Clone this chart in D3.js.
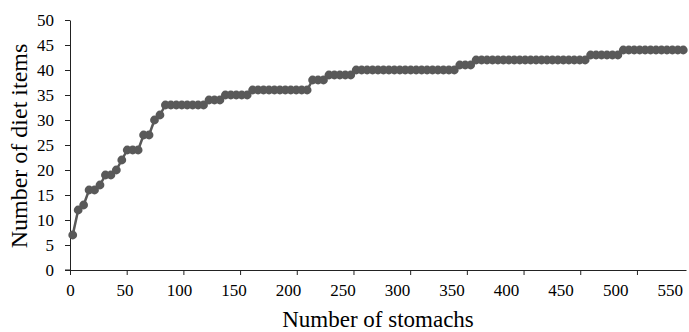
<!DOCTYPE html>
<html>
<head>
<meta charset="utf-8">
<script src="https://cdn.jsdelivr.net/npm/d3@7"></script>
<style>
  html, body { margin: 0; padding: 0; background: #fff; }
  svg { display: block; }
  text { font-family: "Liberation Serif", "Times New Roman", serif; fill: #000; }
</style>
</head>
<body>
<svg id="chart" width="689" height="332"></svg>
<script>
// Cumulative number of diet items, one value every 5 stomachs
const firstStomach = 2.5;
const stomachStep = 5;
const dietItems = [
  7, 12, 13, 16, 16, 17, 19, 19, 20, 22,
  24, 24, 24, 27, 27, 30, 31,
  33, 33, 33, 33, 33, 33, 33, 33,
  34, 34, 34,
  35, 35, 35, 35, 35,
  36, 36, 36, 36, 36, 36, 36, 36, 36, 36, 36,
  38, 38, 38,
  39, 39, 39, 39, 39,
  40, 40, 40, 40, 40, 40, 40, 40, 40, 40, 40, 40, 40, 40, 40, 40, 40, 40, 40,
  41, 41, 41,
  42, 42, 42, 42, 42, 42, 42, 42, 42, 42, 42, 42, 42, 42, 42, 42, 42, 42, 42, 42, 42,
  43, 43, 43, 43, 43, 43,
  44, 44, 44, 44, 44, 44, 44, 44, 44, 44, 44, 44
];
const xTickLabels = [0, 50, 100, 150, 200, 250, 300, 350, 400, 450, 500, 550];
const xTickMarks = [0, 52, 104, 156, 208, 260, 312, 364, 416, 468, 520];
const yTicks = [0, 5, 10, 15, 20, 25, 30, 35, 40, 45, 50];
const xMax = 565;
const xTitle = "Number of stomachs";
const yTitle = "Number of diet items";

(function () {
const data = dietItems.map((v, i) => ({ x: firstStomach + i * stomachStep, y: v }));

const svg = d3.select("#chart");
const mLeft = 70, mRight = 686, mTop = 20, mBottom = 270;
const x = d3.scaleLinear().domain([0, xMax]).range([mLeft, mRight]);
const y = d3.scaleLinear().domain([0, 50]).range([mBottom, mTop]);
const axisColor = "#222";
const markColor = "#595959";

// y axis
const yAxis = svg.append("g").attr("transform", `translate(${mLeft},0)`)
  .call(d3.axisLeft(y).tickValues(yTicks).tickSize(5).tickSizeOuter(0).tickPadding(11));
yAxis.select(".domain").attr("stroke", axisColor);
yAxis.selectAll(".tick line").attr("stroke", axisColor);
yAxis.selectAll(".tick text").attr("font-size", 17).attr("font-family", "Liberation Serif").attr("fill", "#000");

// x axis line + ticks
const xAxisMarks = svg.append("g").attr("transform", `translate(0,${mBottom})`)
  .call(d3.axisBottom(x).tickValues(xTickMarks).tickSize(5).tickSizeOuter(0).tickFormat(""));
xAxisMarks.select(".domain").attr("stroke", axisColor);
xAxisMarks.selectAll(".tick line").attr("stroke", axisColor);
svg.append("line").attr("x1", mLeft - 5).attr("x2", mLeft).attr("y1", mBottom).attr("y2", mBottom)
  .attr("stroke", axisColor);

// x tick labels
const xAxisLabels = svg.append("g").attr("transform", `translate(0,${mBottom})`)
  .call(d3.axisBottom(x).tickValues(xTickLabels).tickSize(0).tickPadding(14));
xAxisLabels.select(".domain").remove();
xAxisLabels.selectAll(".tick text").attr("font-size", 17).attr("font-family", "Liberation Serif").attr("fill", "#000");

// line
svg.append("path").datum(data)
  .attr("fill", "none").attr("stroke", markColor).attr("stroke-width", 2.5)
  .attr("d", d3.line().x(d => x(d.x)).y(d => y(d.y)));

// markers
svg.append("g").selectAll("circle").data(data).join("circle")
  .attr("cx", d => x(d.x)).attr("cy", d => y(d.y)).attr("r", 4.4)
  .attr("fill", markColor);

// titles
svg.append("text").attr("x", 378).attr("y", 327).attr("text-anchor", "middle")
  .attr("font-size", 23).text(xTitle);
svg.append("text").attr("transform", "translate(27,146) rotate(-90)")
  .attr("text-anchor", "middle").attr("font-size", 24).text(yTitle);
})();
</script>
</body>
</html>
